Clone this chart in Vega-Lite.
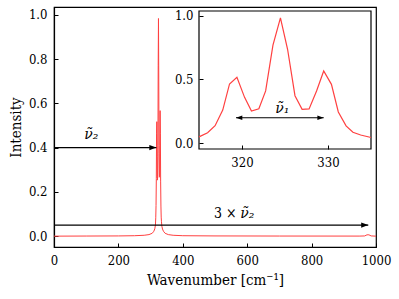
{
  "$schema": "https://vega.github.io/schema/vega-lite/v6.json",
  "autosize": "none",
  "width": 322,
  "height": 240,
  "padding": {"left": 54, "top": 7, "right": 23, "bottom": 52},
  "background": "white",
  "view": {"stroke": "black", "strokeWidth": 1.2},
  "config": {
    "font": "DejaVu Serif",
    "text": {"font": "DejaVu Serif"},
    "axis": {"labelFont": "DejaVu Serif Condensed, DejaVu Serif", "titleFont": "DejaVu Serif Condensed, DejaVu Serif", "labelColor": "black", "titleColor": "black", "titleFontWeight": "normal", "grid": false, "domainColor": "black", "tickColor": "black", "labelFlush": false}
  },
  "datasets": {
    "spectrum": [
      {"wn": 0, "val": 0.0},
      {"wn": 100, "val": 0.0005},
      {"wn": 200, "val": 0.001},
      {"wn": 250, "val": 0.002},
      {"wn": 280, "val": 0.004},
      {"wn": 295, "val": 0.007},
      {"wn": 305, "val": 0.013},
      {"wn": 310, "val": 0.022},
      {"wn": 313, "val": 0.033},
      {"wn": 315, "val": 0.05},
      {"wn": 316.0, "val": 0.083},
      {"wn": 316.87, "val": 0.138},
      {"wn": 317.76, "val": 0.26},
      {"wn": 318.55, "val": 0.465},
      {"wn": 319.41, "val": 0.517},
      {"wn": 320.3, "val": 0.36},
      {"wn": 321.1, "val": 0.253},
      {"wn": 321.96, "val": 0.27},
      {"wn": 322.75, "val": 0.41},
      {"wn": 323.6, "val": 0.77},
      {"wn": 324.47, "val": 0.983},
      {"wn": 325.3, "val": 0.737},
      {"wn": 326.16, "val": 0.373},
      {"wn": 326.99, "val": 0.266},
      {"wn": 327.8, "val": 0.269},
      {"wn": 328.67, "val": 0.41},
      {"wn": 329.5, "val": 0.567},
      {"wn": 330.4, "val": 0.462},
      {"wn": 331.2, "val": 0.245},
      {"wn": 332.1, "val": 0.136},
      {"wn": 332.9, "val": 0.086},
      {"wn": 333.8, "val": 0.065},
      {"wn": 335.0, "val": 0.045},
      {"wn": 337, "val": 0.032},
      {"wn": 340, "val": 0.022},
      {"wn": 345, "val": 0.013},
      {"wn": 355, "val": 0.007},
      {"wn": 370, "val": 0.004},
      {"wn": 400, "val": 0.002},
      {"wn": 500, "val": 0.001},
      {"wn": 700, "val": 0.0005},
      {"wn": 950, "val": 0.0003},
      {"wn": 965, "val": 0.001},
      {"wn": 972, "val": 0.006},
      {"wn": 978, "val": 0.006},
      {"wn": 985, "val": 0.001},
      {"wn": 1000, "val": 0.0}
    ],
    "mainArrows": [
      {"x": 0, "x2": 318, "y": 0.4},
      {"x": 0, "x2": 976, "y": 0.05}
    ],
    "mainLabels": [
      {"x": 116, "y": 0.44, "label": "ν̃₂"},
      {"x": 600, "y": 0.083, "label": "ν̃₂"}
    ],
    "uprightLabels": [
      {"x": 532, "y": 0.083, "label": "3 ×"}
    ],
    "insetArrow": [
      {"x": 319.3, "x2": 329.5, "y": 0.2}
    ],
    "insetLabel": [
      {"x": 324.7, "y": 0.235, "label": "ν̃₁"}
    ],
    "insetFrame": [
      {"x": 315, "x2": 335, "y": -0.045, "y2": 1.037}
    ]
  },
  "layer": [
    {
      "layer": [
        {
          "data": {"name": "spectrum"},
          "mark": {"type": "line", "color": "#ff4040", "strokeWidth": 1},
          "encoding": {
            "x": {"field": "wn", "type": "quantitative",
              "scale": {"domain": [0, 1000], "nice": false, "zero": false},
              "axis": {"title": "Wavenumber [cm⁻¹]", "values": [0, 200, 400, 600, 800, 1000], "format": "d", "tickSize": -4, "tickWidth": 1, "labelPadding": 11, "labelFontSize": 13, "titleFontSize": 15, "titlePadding": 5, "domainWidth": 1.2}},
            "y": {"field": "val", "type": "quantitative",
              "scale": {"domain": [-0.049, 1.035], "nice": false, "zero": false},
              "axis": {"title": "Intensity", "values": [0, 0.2, 0.4, 0.6, 0.8, 1.0], "format": ".1f", "tickSize": -4, "tickWidth": 1, "labelPadding": 11, "labelFontSize": 13, "titleFontSize": 15, "titlePadding": 5, "domainWidth": 1.2}}
          }
        },
        {
          "data": {"name": "mainArrows"},
          "mark": {"type": "rule", "color": "black", "strokeWidth": 1.2},
          "encoding": {
            "x": {"field": "x", "type": "quantitative"},
            "x2": {"field": "x2"},
            "y": {"field": "y", "type": "quantitative"}
          }
        },
        {
          "data": {"name": "mainArrows"},
          "mark": {"type": "point", "shape": "M0,0L-1,-0.36L-1,0.36Z", "filled": true, "color": "black", "opacity": 1, "size": 200},
          "encoding": {
            "x": {"field": "x2", "type": "quantitative"},
            "y": {"field": "y", "type": "quantitative"}
          }
        },
        {
          "data": {"name": "mainLabels"},
          "mark": {"type": "text", "font": "DejaVu Serif", "fontSize": 14, "fontStyle": "italic", "baseline": "alphabetic", "align": "center", "color": "black"},
          "encoding": {
            "x": {"field": "x", "type": "quantitative"},
            "y": {"field": "y", "type": "quantitative"},
            "text": {"field": "label"}
          }
        },
        {
          "data": {"name": "uprightLabels"},
          "mark": {"type": "text", "font": "DejaVu Serif Condensed, DejaVu Serif", "fontSize": 14, "baseline": "alphabetic", "align": "center", "color": "black"},
          "encoding": {
            "x": {"field": "x", "type": "quantitative"},
            "y": {"field": "y", "type": "quantitative"},
            "text": {"field": "label"}
          }
        }
      ]
    },
    {
      "layer": [
        {
          "data": {"name": "insetFrame"},
          "mark": {"type": "rect", "fill": "white", "stroke": "black", "strokeWidth": 1.2},
          "encoding": {
            "x": {"field": "x", "type": "quantitative",
              "scale": {"domain": [315, 335], "range": [145, 317], "nice": false, "zero": false},
              "axis": {"orient": "bottom", "offset": -98, "values": [320, 330], "format": "d", "title": null, "domain": false, "tickSize": -4, "tickWidth": 1, "labelPadding": 11, "labelFontSize": 13, "zindex": 2}},
            "x2": {"field": "x2"},
            "y": {"field": "y", "type": "quantitative",
              "scale": {"domain": [-0.045, 1.037], "range": [142, 4], "nice": false, "zero": false},
              "axis": {"orient": "left", "offset": -145, "values": [0, 0.5, 1.0], "format": ".1f", "title": null, "domain": false, "tickSize": -4, "tickWidth": 1, "labelPadding": 10, "labelFontSize": 13, "zindex": 2}},
            "y2": {"field": "y2"}
          }
        },
        {
          "data": {"name": "spectrum"},
          "transform": [{"filter": "datum.wn >= 315 && datum.wn <= 335"}],
          "mark": {"type": "line", "color": "#ff4040", "strokeWidth": 1.2},
          "encoding": {
            "x": {"field": "wn", "type": "quantitative"},
            "y": {"field": "val", "type": "quantitative"}
          }
        },
        {
          "data": {"name": "insetArrow"},
          "mark": {"type": "rule", "color": "black", "strokeWidth": 1.2},
          "encoding": {
            "x": {"field": "x", "type": "quantitative"},
            "x2": {"field": "x2"},
            "y": {"field": "y", "type": "quantitative"}
          }
        },
        {
          "data": {"name": "insetArrow"},
          "mark": {"type": "point", "shape": "M0,0L-1,-0.36L-1,0.36Z", "filled": true, "color": "black", "opacity": 1, "size": 160},
          "encoding": {
            "x": {"field": "x2", "type": "quantitative"},
            "y": {"field": "y", "type": "quantitative"}
          }
        },
        {
          "data": {"name": "insetArrow"},
          "mark": {"type": "point", "shape": "M0,0L1,-0.36L1,0.36Z", "filled": true, "color": "black", "opacity": 1, "size": 160},
          "encoding": {
            "x": {"field": "x", "type": "quantitative"},
            "y": {"field": "y", "type": "quantitative"}
          }
        },
        {
          "data": {"name": "insetLabel"},
          "mark": {"type": "text", "font": "DejaVu Serif", "fontSize": 14, "fontStyle": "italic", "baseline": "alphabetic", "align": "center", "color": "black"},
          "encoding": {
            "x": {"field": "x", "type": "quantitative"},
            "y": {"field": "y", "type": "quantitative"},
            "text": {"field": "label"}
          }
        }
      ]
    }
  ],
  "resolve": {"scale": {"x": "independent", "y": "independent"}, "axis": {"x": "independent", "y": "independent"}}
}
